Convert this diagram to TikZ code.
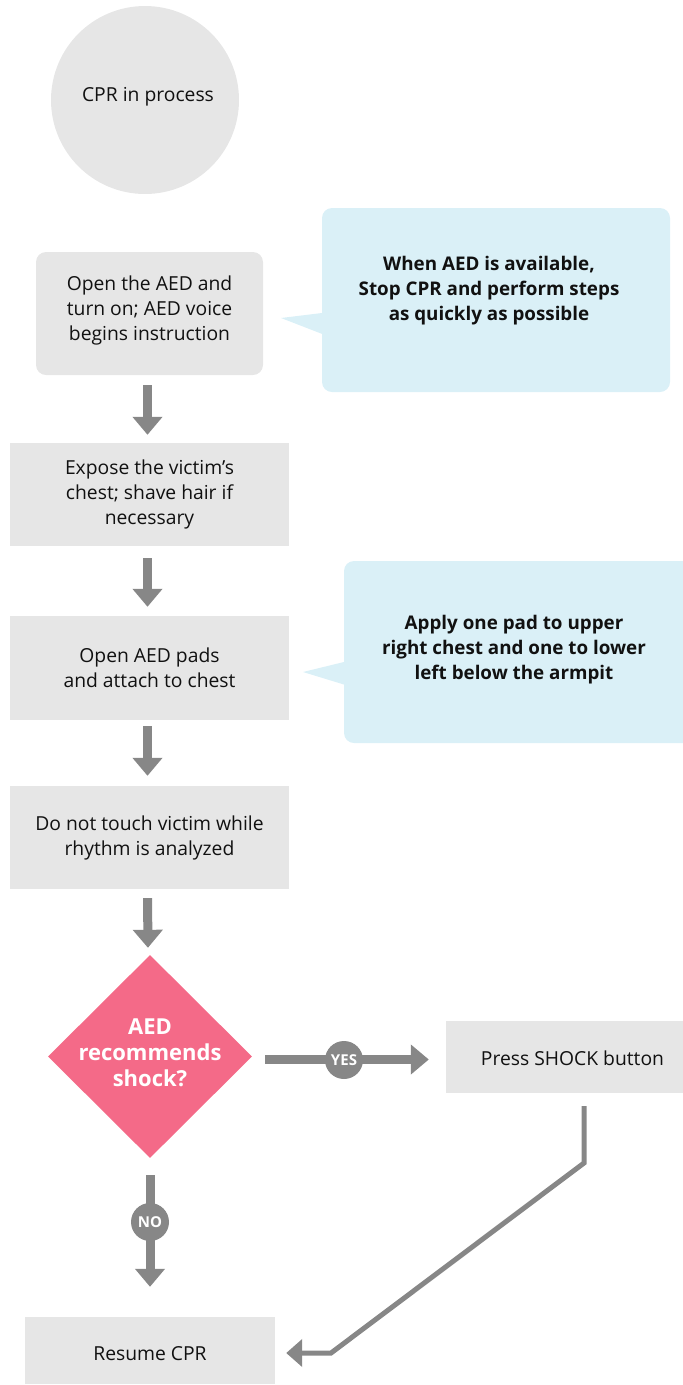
\documentclass[tikz,border=0pt]{standalone}
\usepackage{fontspec}
\setmainfont{Open Sans}
\usetikzlibrary{shapes.geometric,arrows.meta,calc}

\definecolor{boxgray}{HTML}{E6E6E6}
\definecolor{noteblue}{HTML}{DAF0F7}
\definecolor{arrowgray}{HTML}{878787}
\definecolor{decpink}{HTML}{F46A88}
\definecolor{inkblack}{HTML}{111111}

\tikzset{
  body/.style={font=\fontsize{19.3}{25}\selectfont, text=inkblack, align=center},
  stepbox/.style={body, fill=boxgray, inner sep=0pt, minimum width=279pt, minimum height=103pt},
  notebox/.style={fill=noteblue, inner sep=0pt, rounded corners=10pt},
  notetext/.style={font=\bfseries\fontsize{18.8}{25}\selectfont, text=inkblack, align=center, inner sep=0pt},
  flow/.style={draw=arrowgray, line width=9pt, -{Triangle[width=29pt,length=18pt]}},
  back/.style={draw=arrowgray, line width=5pt, line join=miter, -{Triangle[width=27pt,length=16pt]}},
  badge/.style={circle, fill=arrowgray, minimum size=38pt, inner sep=0pt, text=white,
    font=\bfseries\fontsize{15}{15}\selectfont},
}

\begin{document}
\begin{tikzpicture}[x=1pt,y=-1pt]
\useasboundingbox (0,0) rectangle (683,1385);
\clip (0,0) rectangle (683,1385);

% start state
\node[circle, fill=boxgray, minimum size=188pt, inner sep=0pt] (start) at (145,100) {};
\node[body] (starttext) at (148,97) {CPR in process};

% steps
\node[stepbox, minimum width=227pt, minimum height=123pt, rounded corners=10pt] (open) at (149.5,313.5) {};
\node[body, inner sep=0pt] (opentext) at (149.5,310)
  {Open the AED and\\turn on; AED voice\\begins instruction};
\node[stepbox] (expose) at (149.5,494.5) {Expose the victim’s\\chest; shave hair if\\necessary};
\node[stepbox, minimum height=104pt] (pads) at (149.5,668) {Open AED pads\\and attach to chest};
\node[stepbox] (analyze) at (149.5,837.5) {Do not touch victim while\\rhythm is analyzed};

% decision
\node[diamond, fill=decpink, minimum width=204pt, minimum height=203pt, inner sep=0pt] (dec) at (150,1056.5) {};
\node[font=\bfseries\fontsize{22}{26}\selectfont, text=white, align=center, inner sep=0pt] (dectext) at (150,1053)
  {AED\\recommends\\shock?};

\node[stepbox, minimum width=253pt, minimum height=72pt] (shock) at (572.5,1057) {};
\node[body, inner sep=0pt] (shocktext) at (572.5,1058) {Press SHOCK button};
\node[stepbox, minimum width=250pt, minimum height=67pt] (resume) at (150,1350.5) {};
\node[body, inner sep=0pt] (resumetext) at (150,1353.5) {Resume CPR};

% callout notes
\node[notebox, minimum width=348pt, minimum height=184pt] (note1) at (496,300) {};
\fill[noteblue] (330,312) -- (281,318) -- (330,337) -- cycle;
\node[notetext] (note1text) at (489,291) {When AED is available,\\Stop CPR and perform steps\\as quickly as possible};

\node[notebox, minimum width=350pt, minimum height=182pt] (note2) at (519,652) {};
\fill[noteblue] (352,660) -- (303,672) -- (352,687) -- cycle;
\node[notetext] (note2text) at (514,650) {Apply one pad to upper\\right chest and one to lower\\left below the armpit};

% main flow
\draw[flow, shorten <=10pt, shorten >=8pt] ([xshift=-2pt]open.south) -- ([xshift=-2pt]expose.north);
\draw[flow, shorten <=12pt, shorten >=9pt] ([xshift=-2pt]expose.south) -- ([xshift=-2pt]pads.north);
\draw[flow, shorten <=6pt, shorten >=10pt] ([xshift=-2pt]pads.south) -- ([xshift=-2pt]analyze.north);
\draw[flow, shorten <=9pt, shorten >=7pt] ([xshift=-2pt]analyze.south) -- ([xshift=-2pt]dec.north);

% yes branch
\draw[flow, shorten <=13pt, shorten >=17pt] ([yshift=-3pt]dec.east) -- ([yshift=-3pt]dec.east -| shock.west);
\node[badge] (yes) at (344,1060) {YES};

% no branch
\draw[flow, shorten <=17pt, shorten >=30pt] (dec.south) -- (resume.north);
\node[badge] (no) at (150,1222) {NO};

% back to CPR after the shock
\coordinate (bendA) at (584,1163);
\coordinate (bendB) at (331,1353);
\draw[back, shorten <=13pt, shorten >=11pt] (shock.south -| bendA) -- (bendA) -- (bendB) -- (resume.east |- bendB);
\end{tikzpicture}
\end{document}
